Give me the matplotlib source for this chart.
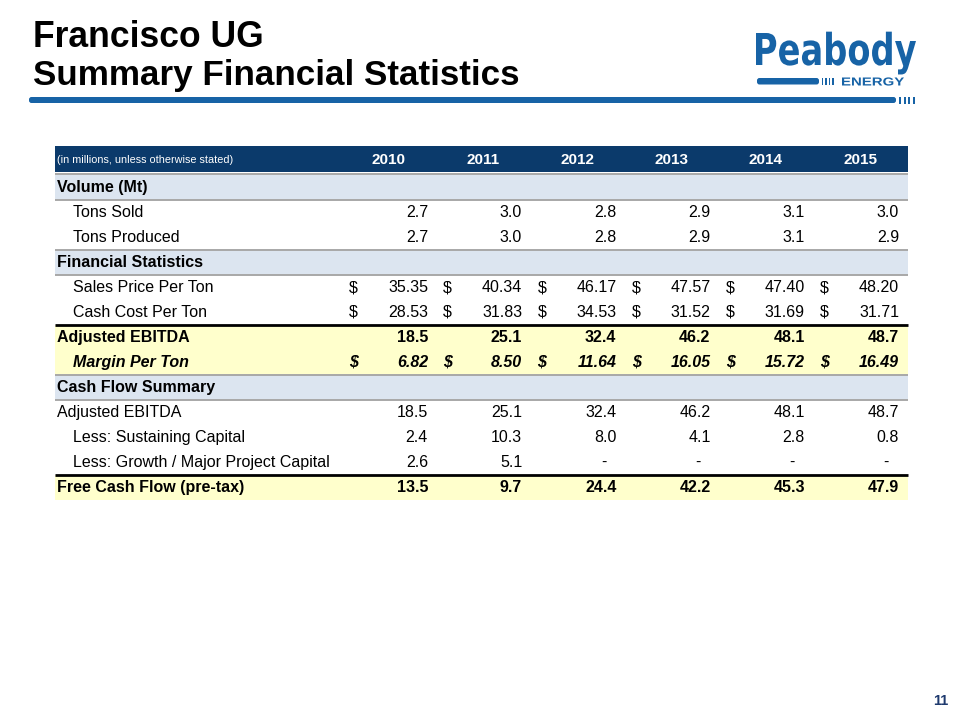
import matplotlib
matplotlib.use("Agg")
import matplotlib.pyplot as plt
from matplotlib.patches import Rectangle, PathPatch, FancyBboxPatch
from matplotlib.textpath import TextPath
from matplotlib.font_manager import FontProperties
from matplotlib.transforms import Affine2D

# ---------------- data ----------------
title_line1 = "Francisco UG"
title_line2 = "Summary Financial Statistics"
header_note = "(in millions, unless otherwise stated)"
years = ["2010", "2011", "2012", "2013", "2014", "2015"]

tons_sold = [2.7, 3.0, 2.8, 2.9, 3.1, 3.0]
tons_produced = [2.7, 3.0, 2.8, 2.9, 3.1, 2.9]
sales_price = [35.35, 40.34, 46.17, 47.57, 47.40, 48.20]
cash_cost = [28.53, 31.83, 34.53, 31.52, 31.69, 31.71]
adj_ebitda = [18.5, 25.1, 32.4, 46.2, 48.1, 48.7]
margin_per_ton = [6.82, 8.50, 11.64, 16.05, 15.72, 16.49]
sustaining_capital = [2.4, 10.3, 8.0, 4.1, 2.8, 0.8]
growth_capital = [2.6, 5.1, None, None, None, None]
free_cash_flow = [13.5, 9.7, 24.4, 42.2, 45.3, 47.9]
page_number = "11"

# rows: (label, values, decimals, dollar, kind)
rows = [
    ("Volume (Mt)", None, 0, False, "section"),
    ("Tons Sold", tons_sold, 1, False, "item"),
    ("Tons Produced", tons_produced, 1, False, "item"),
    ("Financial Statistics", None, 0, False, "section"),
    ("Sales Price Per Ton", sales_price, 2, True, "item"),
    ("Cash Cost Per Ton", cash_cost, 2, True, "item"),
    ("Adjusted EBITDA", adj_ebitda, 1, False, "hl_bold"),
    ("Margin Per Ton", margin_per_ton, 2, True, "hl_italic"),
    ("Cash Flow Summary", None, 0, False, "section"),
    ("Adjusted EBITDA", adj_ebitda, 1, False, "plain"),
    ("Less: Sustaining Capital", sustaining_capital, 1, False, "item"),
    ("Less: Growth / Major Project Capital", growth_capital, 1, False, "item"),
    ("Free Cash Flow (pre-tax)", free_cash_flow, 1, False, "hl_bold"),
]

# ---------------- style ----------------
FONT = "Liberation Sans"
NAVY = "#0b3a6b"
LOGO_BLUE = "#1763a6"
SECTION_BG = "#dce5f0"
YELLOW_BG = "#ffffcc"
GRAY_LINE = "#a8a8a8"

fig = plt.figure(figsize=(9.6, 7.2), dpi=100)
ax = fig.add_axes([0, 0, 1, 1])
ax.set_xlim(0, 960)
ax.set_ylim(720, 0)
ax.axis("off")

# Title
ax.text(33, 47, title_line1, fontsize=25.6, fontweight="bold", family=FONT,
        va="baseline", ha="left", color="black")
ax.text(33, 85, title_line2, fontsize=25.2, fontweight="bold", family=FONT,
        va="baseline", ha="left", color="black")

# Main blue rule with stripes
ax.add_patch(FancyBboxPatch((29, 97), 867, 6, boxstyle="round,pad=0,rounding_size=2.5",
                            fc=LOGO_BLUE, ec="none"))
for sx in [899, 903.5, 908, 912.5]:
    ax.add_patch(Rectangle((sx, 97), 2.2, 7, fc=LOGO_BLUE, ec="none"))


def text_in_box(s, x0, x1, y_top, y_base, family):
    fp = FontProperties(family=family, weight="bold")
    tp = TextPath((0, 0), s, prop=fp, size=10)
    ext = tp.get_extents()
    hp = TextPath((0, 0), "H", prop=fp, size=10).get_extents()
    sx = (x1 - x0) / ext.width
    sy = (y_base - y_top) / hp.height
    tr = Affine2D().translate(-ext.x0, 0).scale(sx, -sy).translate(x0, y_base) + ax.transData
    ax.add_patch(PathPatch(tp, fc=LOGO_BLUE, ec="none", transform=tr))


# Logo
text_in_box("Peabody", 756, 916, 33, 65, "DejaVu Sans")
ax.add_patch(FancyBboxPatch((757, 78), 62, 6.5, boxstyle="round,pad=0,rounding_size=2.5",
                            fc=LOGO_BLUE, ec="none"))
for sx in [821.5, 825, 828.5, 832]:
    ax.add_patch(Rectangle((sx, 78), 1.8, 6.5, fc=LOGO_BLUE, ec="none"))
text_in_box("ENERGY", 842, 904, 77.5, 85.5, FONT)

# ---------------- table ----------------
TX0, TX1 = 55, 908
HEAD_TOP, HEAD_BOT = 146, 172
ROW0 = 175
RH = 25
val_right = [428 + 94.2 * k for k in range(6)]
dollar_left = [349 + 94.2 * k for k in range(6)]
year_center = [389 + 94.2 * k for k in range(6)]
FS = 11.5
BASE = 17

ax.add_patch(Rectangle((TX0, HEAD_TOP), TX1 - TX0, HEAD_BOT - HEAD_TOP, fc=NAVY, ec="none"))
ax.text(57, 163, header_note, fontsize=7.8, color="white",
        family=FONT, va="baseline", ha="left")
for k, yr in enumerate(years):
    ax.text(year_center[k], 164, yr, fontsize=11, color="white",
            family=FONT, fontweight="bold", va="baseline", ha="center")

for i, (label, vals, dec, dollar, kind) in enumerate(rows):
    top = ROW0 + RH * i
    by = top + BASE
    if kind == "section":
        ax.add_patch(Rectangle((TX0, top), TX1 - TX0, RH, fc=SECTION_BG, ec="none"))
    elif kind.startswith("hl"):
        ax.add_patch(Rectangle((TX0, top), TX1 - TX0, RH, fc=YELLOW_BG, ec="none"))

    weight = "bold" if kind in ("section", "hl_bold", "hl_italic") else "normal"
    style = "italic" if kind == "hl_italic" else "normal"
    indent = 73 if kind in ("item", "hl_italic") else 57
    ax.text(indent, by, label, fontsize=FS, fontweight=weight, fontstyle=style,
            family=FONT, va="baseline", ha="left", color="black")
    if vals is None:
        continue
    for k, v in enumerate(vals):
        if v is None:
            ax.text(val_right[k] - 10, by, "-", fontsize=FS, fontweight=weight,
                    fontstyle=style, family=FONT, va="baseline", ha="right")
            continue
        ax.text(val_right[k], by, f"{v:.{dec}f}", fontsize=FS, fontweight=weight,
                fontstyle=style, family=FONT, va="baseline", ha="right")
        if dollar:
            ax.text(dollar_left[k], by, "$", fontsize=FS, fontweight=weight,
                    fontstyle=style, family=FONT, va="baseline", ha="left")

# separator lines
for y in [173.5, 200, 250, 275, 375, 400]:
    ax.plot([TX0, TX1], [y, y], color=GRAY_LINE, lw=1.4, solid_capstyle="butt")
for y in [325, 475]:
    ax.plot([TX0, TX1], [y, y], color="black", lw=2.0, solid_capstyle="butt")

# page number
ax.text(948, 705, page_number, fontsize=10.5, fontweight="bold", color="#1f3a6e",
        family=FONT, va="baseline", ha="right")

fig.savefig("out.png", dpi=100)
